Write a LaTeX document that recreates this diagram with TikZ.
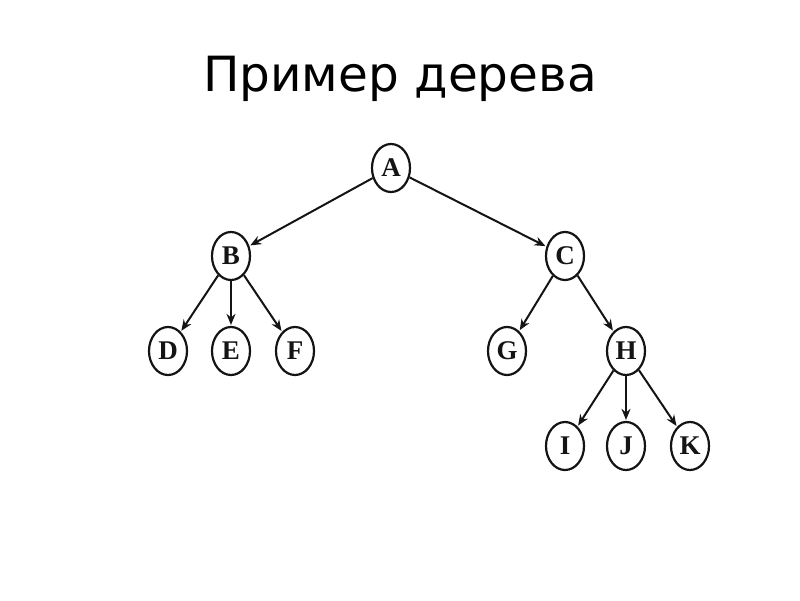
\documentclass[tikz,border=0pt]{standalone}
\usepackage{fontspec}
\setmainfont{Liberation Serif}
\newfontfamily\titlefont{DejaVu Sans}
\usetikzlibrary{shapes.geometric,arrows.meta}
\definecolor{inkblack}{RGB}{20,20,20}

\tikzset{
    vertex/.style={ellipse, draw=inkblack, line width=2.2pt, fill=white,
        minimum width=38pt, minimum height=48pt, inner sep=0pt,
        font=\fontsize{27}{27}\selectfont\bfseries, text=inkblack},
    link/.style={draw=inkblack, line width=2pt,
        -{Stealth[length=11pt,width=9pt]}, shorten >=1pt}
}

\begin{document}
\begin{tikzpicture}[x=1pt,y=-1pt]
\useasboundingbox (0,0) rectangle (800,600);
\node[font=\titlefont\fontsize{48.5}{48.5}\selectfont] (title) at (400,79) {Пример дерева};

% root and first level
\node[vertex] (A) at (391,168) {A};
\node[vertex] (B) at (231,256) {B};
\node[vertex] (C) at (565,256) {C};

% second level
\node[vertex] (D) at (168,351) {D};
\node[vertex] (E) at (231,351) {E};
\node[vertex] (F) at (295,351) {F};
\node[vertex] (G) at (507,351) {G};
\node[vertex] (H) at (626,351) {H};

% third level
\node[vertex] (I) at (565,446) {I};
\node[vertex] (J) at (626,446) {J};
\node[vertex] (K) at (690,446) {K};

\draw[link] (A) -- (B);
\draw[link] (A) -- (C);
\draw[link] (B) -- (D);
\draw[link] (B) -- (E);
\draw[link] (B) -- (F);
\draw[link] (C) -- (G);
\draw[link] (C) -- (H);
\draw[link] (H) -- (I);
\draw[link] (H) -- (J);
\draw[link] (H) -- (K);
\end{tikzpicture}
\end{document}
